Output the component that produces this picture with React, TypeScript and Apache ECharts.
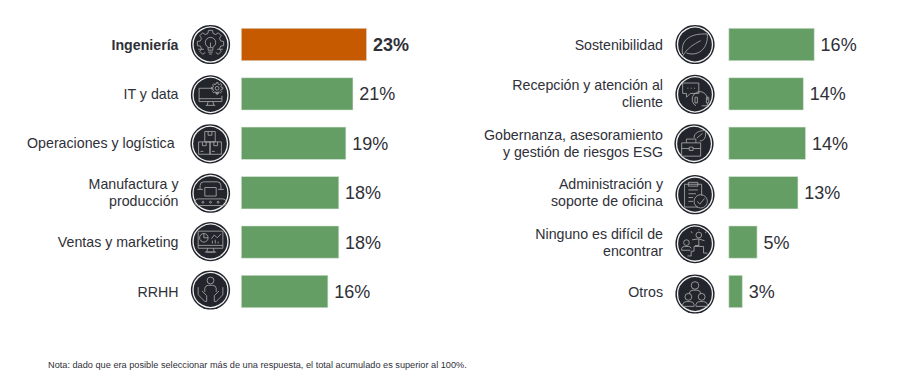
import React, { useEffect, useRef } from "react";
import * as echarts from "echarts";

const leftCategories = [
  "Ingeniería",
  "IT y data",
  "Operaciones y logística ",
  "Manufactura y\nproducción",
  "Ventas y marketing",
  "RRHH",
];
const leftValues = [23.1, 20.6, 19.3, 18, 18, 16];
const rightCategories = [
  "Sostenibilidad",
  "Recepción y atención al\ncliente",
  "Gobernanza, asesoramiento\ny gestión de riesgos ESG",
  "Administración y\nsoporte de oficina",
  "Ninguno es difícil de\nencontrar",
  "Otros",
];
const rightValues = [15.8, 13.8, 14.2, 12.8, 5.3, 2.6];
const note =
  "Nota: dado que era posible seleccionar más de una respuesta, el total acumulado es superior al 100%.";

const GREEN = "#659e65";
const ORANGE = "#c55a00";
const TEXT = "#2f3038";

const circ = (x: number, y: number, r: number) =>
  `M${x + r} ${y}A${r} ${r} 0 1 1 ${x - r} ${y}A${r} ${r} 0 1 1 ${x + r} ${y}Z`;

const gear = (cx: number, cy: number, r1: number, r2: number, n: number, gap = 0) => {
  const pts: string[] = [];
  const step = (Math.PI * 2) / n;
  for (let i = gap; i < n - gap + 1; i++) {
    const a = Math.PI / 2 + i * step;
    const offs: [number, number][] = [
      [-0.32, r2],
      [-0.2, r1],
      [0.2, r1],
      [0.32, r2],
    ];
    offs.forEach(([o, r]) => {
      const t = a + o * step;
      pts.push(`${(cx + Math.cos(t) * r).toFixed(2)} ${(cy + Math.sin(t) * r).toFixed(2)}`);
    });
  }
  return "M" + pts.join("L") + (gap ? "" : "Z");
};

const leftIcons = [
  gear(0, -1, 14, 11, 8, 1) + circ(0, -2, 5.5) + "M-2.5 3V6H2.5V3M-2.5 8H2.5M-1.5 10H1.5M0 -2V3M-13 5H-7M13 5H7",
  "M3 -7H-12V7H12V1M-12 4H12M-2.5 7L-3.5 11M2.5 7L3.5 11M-5 11H5" + gear(7, -7, 6, 4.4, 8) + circ(7, -7, 2),
  "M-5.5 -13H5.5V-2H-5.5ZM-2 -13V-9H2V-13M-12 -2H0V11H-12ZM-8 -2V2H-4V-2M0 -2H12V11H0ZM4 -2V2H8V-2M-10 8H-7M2 8H5",
  "M-11 -4V-8A4 4 0 0 1 -7 -12H7A4 4 0 0 1 11 -8V-4M-14 -4H-8M14 -4H8M-6 -6H6V3H-6ZM-13 6H13A2.5 2.5 0 0 1 13 13H-13A2.5 2.5 0 0 1 -13 6Z" +
    circ(-8, 9.5, 1) + circ(0, 9.5, 1) + circ(8, 9.5, 1),
  "M-13 -11H13V7H-13ZM-13 4H13M-3 7L-4 11H4L3 7M-6 11H6" + circ(-7, -4, 4.5) + "M-7 -4V-8.5M-7 -4H-2.5M1 -3L4 -7L7 -4L11 -8M2 2V-1M5 2V-2M8 2V0",
  circ(0, -10, 3.6) + "M-6 2V-2A4 4 0 0 1 -2 -5H2A4 4 0 0 1 6 -2V2M-13 -3V5L-6 12H-4V6L-9 1M13 -3V5L6 12H4V6L9 1",
];
const rightIcons = [
  "M-13 10C-16 -6 -3 -12 13 -11C14 4 4 13 -9 9M-13 12C-8 4 -2 0 6 -4",
  "M-13 -12H4V-1H-5L-9 3V-1H-13ZM-8 -6.5H-7M-4.5 -6.5H-3.5M-1 -6.5H0M1 12A8 8 0 1 1 13 6M0 3V9H2.5V3ZM12 3V9H14.5V3ZM13 9V12H7",
  "M-13 -1H7V13H-13ZM-8 -1V-5H2V-1M-13 5H-5M-1 5H7M-5 3.5H-1V7H-5ZM0 -6C0 -12 6 -14 12 -14C13 -7 11 -3 6 -3M3 -6L9 -11",
  "M-11 -11H7V1M3 13H-11V-11M-7 -13H3V-9H-7ZM-7 -5H3M-7 -1H1M-7 3H-2M-7 7H-2" + circ(6, 7, 7) + "M2.5 7L5 10L10 4",
  circ(4, -9, 3) + circ(-9, -1, 3) + "M-3 -4L4 -5L10 -3M4 -5V3H9V10H13M0 2H4M4 3H-1V8H-4V13H-8M-14 7V5A3 3 0 0 1 -11 3H-7A3 3 0 0 1 -4 5M-14 7H-5M-4 -13L-3 -11M4 -15V-14M12 -13L11 -11",
  circ(0, -9, 4) + "M-6 0V-1A4 4 0 0 1 -2 -4H2A4 4 0 0 1 6 -1V0" + circ(-7, 3, 3.6) + "M-13 13V11A4 4 0 0 1 -9 8H-5A4 4 0 0 1 -1 11V13Z" + circ(7, 3, 3.6) + "M1 13V11A4 4 0 0 1 5 8H9A4 4 0 0 1 13 11V13Z",
];

const leftIconShift: [number, number][] = [
  [-30.5, 0], [-30.5, 1], [-31, 0.5], [-30.5, 0.5], [-30.5, -0.5], [-30.5, -1.5],
];
const rightIconShift: [number, number][] = [
  [-33.5, 0], [-33.5, 0.5], [-34.5, 0.5], [-33.5, 2], [-33.5, 1.5], [-33.5, 2.5],
];

const makeIcons = (icons: string[], shift: [number, number][]) => (_: any, api: any) => {
  const i = api.value(1) as number;
  const p = api.coord([0, i]);
  return {
    type: "group",
    x: p[0] + shift[i][0],
    y: p[1] + shift[i][1],
    silent: true,
    children: [
      { type: "circle", shape: { cx: 0, cy: 0, r: 19.6 }, style: { fill: "#22252c" } },
      { type: "circle", shape: { cx: 0, cy: 0, r: 17.5 }, style: { fill: "none", stroke: "#f0f0f0", lineWidth: 1.3 } },
      {
        type: "path",
        scaleX: 0.95,
        scaleY: 0.95,
        shape: { pathData: icons[i] },
        style: { fill: "none", stroke: "#a8a8a8", lineWidth: 0.9 },
      },
    ],
  };
};

const barSeries = (values: number[], idx: number, highlight: number) => ({
  type: "bar",
  xAxisIndex: idx,
  yAxisIndex: idx,
  barWidth: 33,
  data: values.map((v, i) => ({
    value: v,
    itemStyle: { color: i === highlight ? ORANGE : GREEN, borderColor: "#dfe9df", borderWidth: 0.6 },
    label: { fontWeight: i === highlight ? "bold" : "normal" },
  })),
  label: {
    show: true,
    position: "right",
    distance: 6,
    offset: [0, 0.5],
    fontFamily: "Liberation Sans",
    fontSize: 18,
    color: TEXT,
    formatter: (p: any) => `${Math.round(p.value)}%`,
  },
});

const iconSeries = (values: number[], idx: number, icons: string[], shift: [number, number][]) => ({
  type: "custom",
  xAxisIndex: idx,
  yAxisIndex: idx,
  silent: true,
  clip: false,
  z: 5,
  encode: { x: 0, y: 1 },
  renderItem: makeIcons(icons, shift),
  data: values.map((_, i) => [0, i]),
});

const xAxis = (idx: number) => ({ type: "value", gridIndex: idx, min: 0, max: 30, show: false });
const yAxis = (idx: number, cats: string[], margin: number, bold: number) => ({
  type: "category",
  gridIndex: idx,
  inverse: true,
  data: cats.map((c, i) => (i === bold ? { value: c, textStyle: { fontWeight: "bold" } } : c)),
  axisLine: { show: false },
  axisTick: { show: false },
  axisLabel: {
    interval: 0,
    margin,
    align: "right",
    fontFamily: "Liberation Sans",
    fontSize: 14.2,
    lineHeight: 17,
    color: TEXT,
  },
});

export default function App() {
  const ref = useRef<HTMLDivElement>(null);
  useEffect(() => {
    document.body.style.margin = "0";
    const chart = echarts.init(ref.current!, undefined, { renderer: "svg" });
    chart.setOption({
      animation: false,
      backgroundColor: "#ffffff",
      title: {
        text: note,
        left: 43,
        top: 355,
        textStyle: { fontFamily: "Liberation Sans", fontSize: 9.2, fontWeight: "normal", color: TEXT },
      },
      grid: [
        { left: 241, top: 19.8, width: 163.5, height: 296.4 },
        { left: 728.5, top: 19.8, width: 163.5, height: 296.4 },
      ],
      xAxis: [xAxis(0), xAxis(1)],
      yAxis: [yAxis(0, leftCategories, 62.5, 0), yAxis(1, rightCategories, 65.5, -1)],
      series: [
        barSeries(leftValues, 0, 0),
        barSeries(rightValues, 1, -1),
        iconSeries(leftValues, 0, leftIcons, leftIconShift),
        iconSeries(rightValues, 1, rightIcons, rightIconShift),
      ],
    });
    return () => chart.dispose();
  }, []);
  return <div ref={ref} style={{ width: 904, height: 383 }} />;
}
